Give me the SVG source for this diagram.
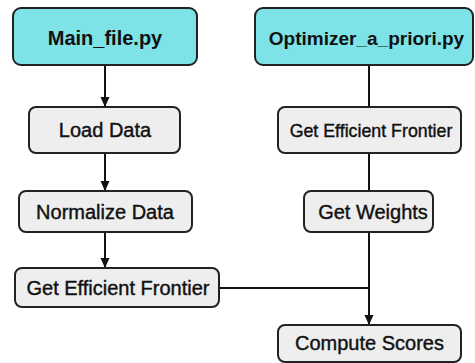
<svg xmlns="http://www.w3.org/2000/svg" width="475" height="363" viewBox="0 0 475 363">
<style>
.hdr{fill:#7ee3e7;stroke:#222;stroke-width:2}
.box{fill:#eeeeee;stroke:#222;stroke-width:2}
.t{font-family:"Liberation Sans",Arial,sans-serif;font-size:20px;fill:#111;text-anchor:middle;stroke:#111;stroke-width:0.4}
.h{font-weight:bold;stroke-width:0}
.c{stroke:#111;stroke-width:2;fill:none}
</style>
<defs>
<marker id="arr" markerWidth="10" markerHeight="10" refX="9" refY="5" orient="auto" markerUnits="userSpaceOnUse">
<path d="M0,0.5 L10,5 L0,9.5 Z" fill="#111"/>
</marker>
</defs>
<rect width="475" height="363" fill="#fff"/>
<g id="connectors">
<line class="c" x1="105" y1="65" x2="105" y2="106" marker-end="url(#arr)"/>
<line class="c" x1="105" y1="153" x2="105" y2="190" marker-end="url(#arr)"/>
<line class="c" x1="105" y1="232" x2="105" y2="267" marker-end="url(#arr)"/>
<line class="c" x1="369" y1="65" x2="369" y2="107"/>
<line class="c" x1="369" y1="153" x2="369" y2="191"/>
<line class="c" x1="369" y1="232" x2="369" y2="324" marker-end="url(#arr)"/>
<line class="c" x1="219" y1="288" x2="369" y2="288"/>
</g>
<g id="main_file">
<rect class="hdr" x="13" y="8" width="184" height="57" rx="8"/>
<text class="t h" x="105" y="45">Main_file.py</text>
</g>
<g id="optimizer">
<rect class="hdr" x="255" y="8" width="218" height="57" rx="8"/>
<text class="t h" x="366.5" y="44.5" style="font-size:19px">Optimizer_a_priori.py</text>
</g>
<g id="load_data">
<rect class="box" x="29" y="107" width="151" height="46" rx="7"/>
<text class="t" x="105" y="137">Load Data</text>
</g>
<g id="gef_right">
<rect class="box" x="278" y="107" width="183" height="46" rx="7"/>
<text class="t" x="371" y="137" style="font-size:17.8px">Get Efficient Frontier</text>
</g>
<g id="normalize">
<rect class="box" x="19" y="191" width="173" height="41" rx="7"/>
<text class="t" x="105" y="218.5">Normalize Data</text>
</g>
<g id="get_weights">
<rect class="box" x="304" y="191" width="129" height="41" rx="7"/>
<text class="t" x="373" y="218.5">Get Weights</text>
</g>
<g id="gef_left">
<rect class="box" x="15" y="268" width="204" height="39" rx="7"/>
<text class="t" x="118" y="295">Get Efficient Frontier</text>
</g>
<g id="compute_scores">
<rect class="box" x="278" y="325" width="183" height="37" rx="7"/>
<text class="t" x="369.5" y="350">Compute Scores</text>
</g>
</svg>
